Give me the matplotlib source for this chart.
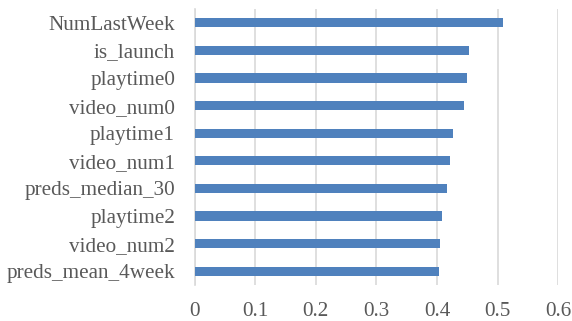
import matplotlib
matplotlib.use("Agg")
import matplotlib.pyplot as plt

features = ["NumLastWeek", "is_launch", "playtime0", "video_num0", "playtime1",
            "video_num1", "preds_median_30", "playtime2", "video_num2",
            "preds_mean_4week"]
importance = [0.508, 0.452, 0.449, 0.445, 0.426, 0.422, 0.417, 0.409, 0.405, 0.403]
x_ticks = [0, 0.1, 0.2, 0.3, 0.4, 0.5, 0.6]
x_tick_labels = ["0", "0.1", "0.2", "0.3", "0.4", "0.5", "0.6"]

plt.rcParams["font.family"] = ["Liberation Serif", "DejaVu Serif"]

fig = plt.figure(figsize=(5.72, 3.21), dpi=100)
ax = fig.add_axes([194.5 / 572, 1 - 285 / 321, (558.3 - 194.5) / 572, (285 - 9) / 321])

ypos = list(range(len(features)))[::-1]
ax.barh(ypos, importance, height=0.34, color="#4f81bd", zorder=3)

ax.set_xlim(0, 0.6)
ax.set_ylim(-0.5, len(features) - 0.5)
ax.set_xticks(x_ticks)
ax.set_xticklabels(x_tick_labels)
ax.set_yticks(ypos)
ax.set_yticklabels(features)

ax.grid(axis="x", color="#d9d9d9", linewidth=1.2, zorder=0)
for side in ["top", "right", "bottom"]:
    ax.spines[side].set_visible(False)
ax.spines["left"].set_color("#d9d9d9")
ax.spines["left"].set_linewidth(1.2)

ax.tick_params(axis="both", length=0, labelsize=15.2, labelcolor="#595959")
ax.tick_params(axis="x", pad=12)
ax.tick_params(axis="y", pad=14)

fig.savefig("out.png", dpi=100)
